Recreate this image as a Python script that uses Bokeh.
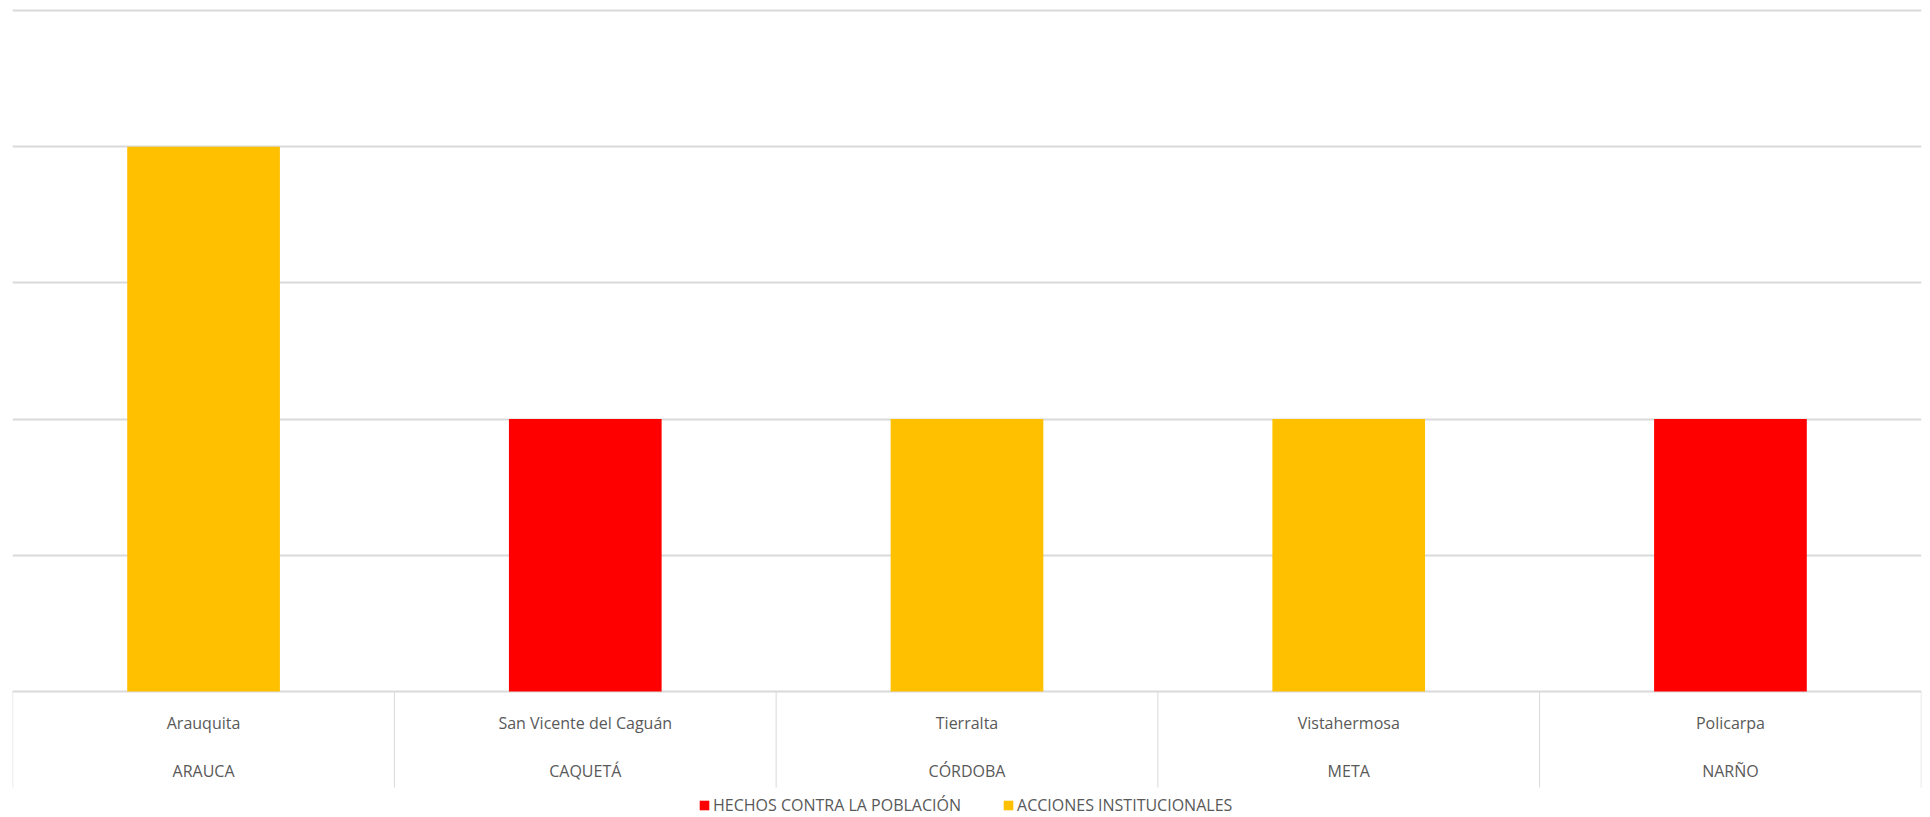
import numpy as np
from bokeh.plotting import figure
from bokeh.models import Range1d, Grid, FixedTicker, Legend, LegendItem, ColumnDataSource
from bokeh.core.properties import value
from bokeh.embed import file_html
from bokeh.resources import INLINE

# ---- data ----
municipios = ["Arauquita", "San Vicente del Caguán", "Tierralta", "Vistahermosa", "Policarpa"]
departamentos = ["ARAUCA", "CAQUETÁ", "CÓRDOBA", "META", "NARÑO"]
hechos = [0, 2, 0, 0, 2]          # HECHOS CONTRA LA POBLACIÓN
acciones = [4, 0, 2, 2, 0]        # ACCIONES INSTITUCIONALES
y_ticks = [0, 1, 2, 3, 4, 5]

RED = "#FF0000"
YELLOW = "#FFC000"
GRID = "#D9D9D9"
TEXT = "#595959"
FONT_NAME = "Open Sans"
FONT = value(FONT_NAME)

n = len(municipios)
centers = np.arange(n) + 0.5
edges = np.arange(n + 1)

p = figure(width=1922, height=816, output_backend="svg", toolbar_location=None,
           x_axis_location=None, y_axis_location=None,
           x_range=Range1d(-0.0005, n + 0.0005), y_range=Range1d(-0.9178, 5.0147),
           min_border_left=12, min_border_right=1, min_border_top=8, min_border_bottom=0)
p.outline_line_color = None
p.background_fill_color = "white"
p.border_fill_color = "white"
p.xgrid.visible = False
p.ygrid.visible = False

grid = Grid(dimension=1, ticker=FixedTicker(ticks=y_ticks),
            grid_line_color=GRID, grid_line_width=2)
p.add_layout(grid)

src = ColumnDataSource(dict(x=centers, hechos=hechos, acciones=acciones))
r_h = p.vbar(x="x", top="hechos", bottom=0, width=0.4, source=src,
             fill_color=RED, line_color=None)
r_a = p.vbar(x="x", top="acciones", bottom=0, width=0.4, source=src,
             fill_color=YELLOW, line_color=None)

# category "table" separators
p.segment(x0=edges, y0=0, x1=edges, y1=-0.705, line_color=GRID, line_width=1)

# category labels
p.text(x=centers, y=-0.231, text=municipios, text_align="center", text_baseline="middle",
       text_font=FONT, text_font_size="16px", text_color=TEXT)
p.text(x=centers, y=-0.587, text=departamentos, text_align="center", text_baseline="middle",
       text_font=FONT, text_font_size="16px", text_color=TEXT)

legend = Legend(items=[LegendItem(label="HECHOS CONTRA LA POBLACIÓN", renderers=[r_h]),
                       LegendItem(label="ACCIONES INSTITUCIONALES", renderers=[r_a])],
                orientation="horizontal", location=(686, 0),
                glyph_width=12, glyph_height=12, label_standoff=3, spacing=41,
                padding=0, margin=0, label_height=20,
                label_text_font=FONT_NAME, label_text_font_size="16px", label_text_color=TEXT,
                border_line_color=None, background_fill_alpha=0)
p.add_layout(legend, "center")

open("out.html", "w").write(file_html(p, INLINE))
